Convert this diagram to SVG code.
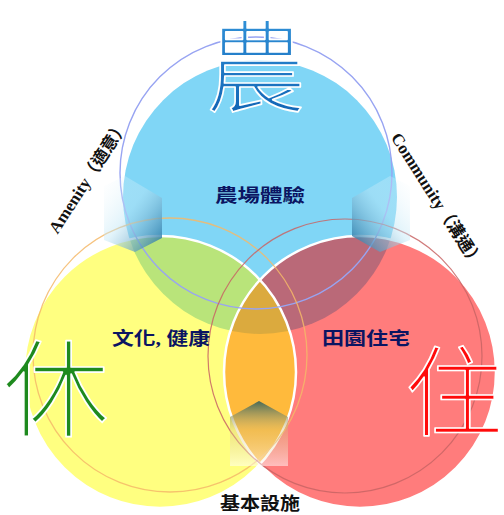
<svg xmlns="http://www.w3.org/2000/svg" width="504" height="515" viewBox="0 0 504 515">
<defs>
<style>
.big{font-family:"Noto Sans CJK TC","Noto Sans CJK SC",sans-serif;font-weight:300;text-anchor:middle;stroke:#fff;stroke-width:1.7;paint-order:normal;stroke-linejoin:round}
.lbl{font-family:"Liberation Serif","Noto Sans CJK TC",serif;font-weight:700;font-size:18px;fill:#0B1562}
.side{font-family:"Liberation Serif","Noto Sans CJK TC",serif;font-weight:700;font-size:17px;fill:#111;text-anchor:middle}
.edge{fill:none;stroke:#fff;stroke-width:2.5}
</style>
<clipPath id="cpBlue"><circle cx="260" cy="197" r="137"/></clipPath>
<clipPath id="cpYellow"><circle cx="160" cy="372" r="136"/></clipPath>
<linearGradient id="gL" x1="0" y1="0" x2="1" y2="1">
<stop offset="0" stop-color="#fff" stop-opacity="0.15"/>
<stop offset="0.45" stop-color="#bfe6f6" stop-opacity="0.45"/>
<stop offset="1" stop-color="#15689a" stop-opacity="0.9"/>
</linearGradient>
<linearGradient id="gR" x1="1" y1="0" x2="0" y2="1">
<stop offset="0" stop-color="#fff" stop-opacity="0.15"/>
<stop offset="0.45" stop-color="#bfe6f6" stop-opacity="0.45"/>
<stop offset="1" stop-color="#15689a" stop-opacity="0.9"/>
</linearGradient>
<linearGradient id="gB" x1="0" y1="0" x2="0" y2="1">
<stop offset="0" stop-color="#3d6459" stop-opacity="0.95"/>
<stop offset="0.45" stop-color="#d9c27a" stop-opacity="0.35"/>
<stop offset="1" stop-color="#fff" stop-opacity="0.5"/>
</linearGradient>
<linearGradient id="gBlueChar" x1="0" y1="0" x2="0" y2="1">
<stop offset="0" stop-color="#3a9ee2"/>
<stop offset="1" stop-color="#0b5cae"/>
</linearGradient>
</defs>

<g id="fills">
<circle id="circle-agri" cx="260" cy="197" r="137" fill="#80D6F6"/>
<circle id="circle-leisure" cx="160" cy="372" r="136" fill="#FFFF80"/>
<circle id="circle-living" cx="360" cy="372" r="136" fill="#FF7C7C"/>
<circle cx="160" cy="372" r="136" fill="#B9E47A" clip-path="url(#cpBlue)"/>
<circle cx="360" cy="372" r="136" fill="#BA6978" clip-path="url(#cpBlue)"/>
<circle cx="360" cy="372" r="136" fill="#FFBA3C" clip-path="url(#cpYellow)"/>
<g clip-path="url(#cpBlue)"><circle cx="360" cy="372" r="136" fill="#DBAA3E" clip-path="url(#cpYellow)"/></g>
<circle class="edge" cx="160" cy="372" r="136"/>
<circle class="edge" cx="360" cy="372" r="136"/>
</g>

<g id="outlines" fill="none">
<circle cx="256" cy="173" r="136" stroke="#98A4F2" stroke-width="1.4"/>
<circle cx="170" cy="355" r="137" stroke="#F4B868" stroke-width="1.3" opacity="0.85"/>
<circle cx="345" cy="356" r="137" stroke="#C86464" stroke-width="1.2" opacity="0.85"/>
</g>

<g id="connectors">
<polygon points="162,198 125,176 104,186 104,240 135,252 162,238" fill="url(#gL)"/>
<polygon points="352,198 390,176 410,186 410,240 380,252 352,236" fill="url(#gR)"/>
<polygon points="259,401 288,417 288,466 230,466 230,417" fill="url(#gB)"/>
<text class="side" transform="translate(93,180) rotate(-57)">Amenity（適意）</text>
<text class="side" transform="translate(432,203) rotate(57.6)">Community（溝通）</text>
</g>

<g id="node-agri">
<text class="big" x="256" y="104" font-size="100" fill="url(#gBlueChar)">農</text>
<text class="lbl" x="215" y="202" textLength="90" lengthAdjust="spacingAndGlyphs">農場體驗</text>
</g>
<g id="node-leisure">
<text class="big" x="56" y="428" font-size="106" fill="#1E8A1E">休</text>
<text class="lbl" x="112" y="345" textLength="98" lengthAdjust="spacingAndGlyphs">文化, 健康</text>
</g>
<g id="node-living">
<text class="big" x="454" y="428" font-size="98" fill="#FF0A0A">住</text>
<text class="lbl" x="322" y="345" textLength="88" lengthAdjust="spacingAndGlyphs">田園住宅</text>
</g>
<g id="node-base">
<text class="lbl" x="220" y="510" textLength="80" lengthAdjust="spacingAndGlyphs" style="fill:#111">基本設施</text>
</g>
</svg>
